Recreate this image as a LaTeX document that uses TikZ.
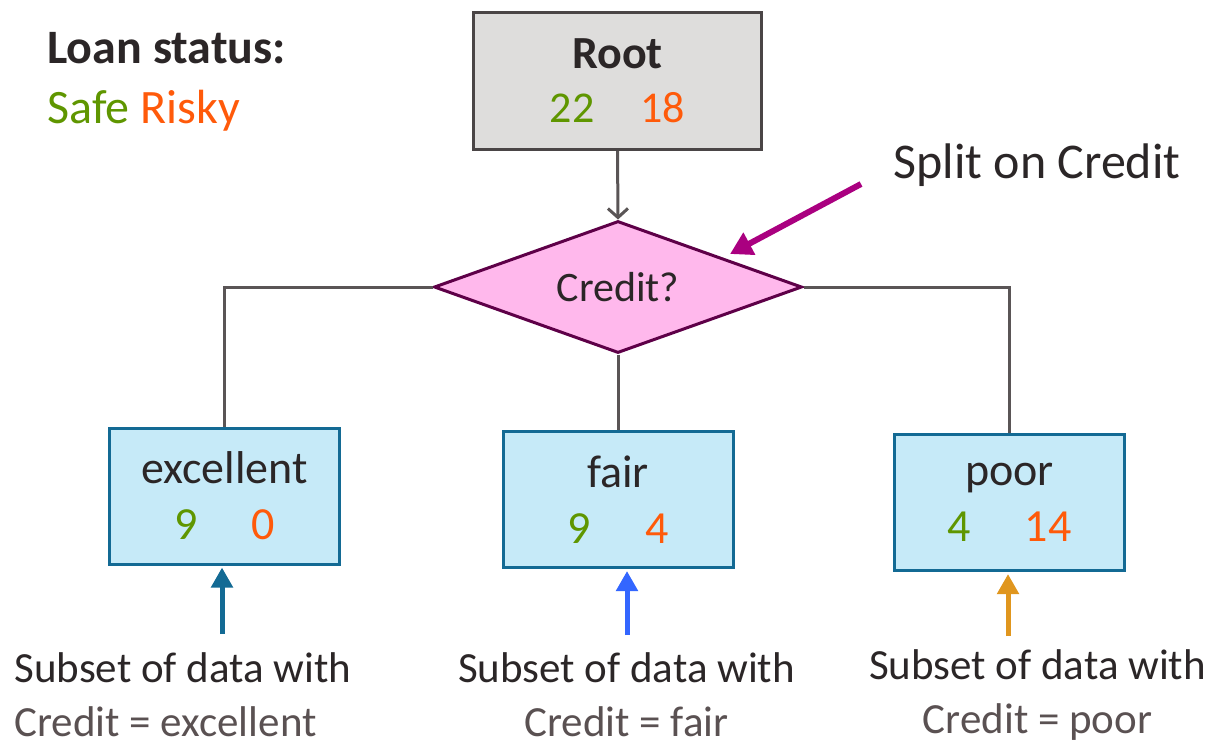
\documentclass[tikz,border=0pt]{standalone}
\usepackage{fontspec}
\setmainfont{Carlito}
\usetikzlibrary{shapes.geometric,arrows.meta}

\definecolor{safe}{HTML}{5F9600}
\definecolor{risky}{HTML}{FF5A0A}
\definecolor{textdark}{HTML}{2B2627}
\definecolor{textgray}{HTML}{5A5152}
\definecolor{rootfill}{HTML}{DEDDDC}
\definecolor{rootdraw}{HTML}{4A4546}
\definecolor{credfill}{HTML}{FFB8EC}
\definecolor{creddraw}{HTML}{5E0048}
\definecolor{leaffill}{HTML}{C6EAF8}
\definecolor{leafdraw}{HTML}{136A94}
\definecolor{connline}{HTML}{5A5556}
\definecolor{splitcol}{HTML}{AA0080}
\definecolor{exccol}{HTML}{136A94}
\definecolor{faircol}{HTML}{3366FF}
\definecolor{poorcol}{HTML}{E0961E}

\begin{document}
\begin{tikzpicture}[x=0.5pt,y=-0.5pt,
		rootbox/.style={draw=rootdraw,fill=rootfill,line width=1.5pt,minimum width=144pt,minimum height=68.5pt,align=center,text=textdark,font=\fontsize{23}{27}\selectfont},
		leaf/.style={draw=leafdraw,fill=leaffill,line width=1.5pt,minimum width=115pt,minimum height=68pt,align=center,text=textdark,font=\fontsize{23}{28}\selectfont},
		question/.style={diamond,aspect=2.78,draw=creddraw,fill=credfill,line width=1.5pt,inner sep=0pt,minimum width=184pt,minimum height=66pt,text=textdark,font=\fontsize{21}{25}\selectfont},
		conn/.style={draw=connline,line width=1.5pt},
		sublabel/.style={inner sep=0pt,text=textdark,font=\fontsize{21.5}{27}\selectfont},
		thick arrow/.style={line width=2.5pt,-{Triangle[width=10.5pt,length=10pt]}}]
			\useasboundingbox (0,0) rectangle (1213,746);
			% legend
			\node[anchor=west,inner sep=0pt,align=left,font=\fontsize{24}{30}\selectfont] (legend) at (47,82) {{\bfseries\color{textdark}Loan status:}\\{\color{safe}Safe} {\color{risky}Risky}};
			% tree
			\node[rootbox] (root) at (617.5,81) {{\bfseries Root}\\{\fontsize{22}{27}\selectfont\color{safe}22\hspace{23pt}\color{risky}18}};
			\node[question] (credit) at (618,287) {Credit?};
			\node[leaf] (exc) at (224.5,496) {excellent\\{\color{safe}9}\hspace{27pt}{\color{risky}0}};
			\node[leaf] (fair) at (618,499.5) {fair\\{\color{safe}9}\hspace{27pt}{\color{risky}4}};
			\node[leaf] (poor) at (1009.5,502.5) {poor\\{\color{safe}4}\hspace{27pt}{\color{risky}14}};
			\draw[conn,-{Straight Barb[length=4.5pt,width=10pt]}] (root.south) -- (credit.north);
			\draw[conn] (credit.west) -| (exc.north);
			\draw[conn] (credit.south) -- (fair.north);
			\draw[conn] (credit.east) -| (poor.north);
			% split annotation
			\node[inner sep=0pt,text=textdark,font=\fontsize{25}{30}\selectfont] (split) at (1037,165) {Split on Credit};
			\coordinate (splittail) at (861,184);
			\coordinate (splittip) at (730,254);
			\draw[splitcol,line width=3pt,-{Triangle[width=12pt,length=11pt]}] (splittail) -- (splittip);
			% subsets
			\node[sublabel,anchor=west,align=left] (exclab) at (14,695) {Subset of data with\\{\color{textgray}Credit = excellent}};
			\node[sublabel,align=center] (fairlab) at (626.5,695) {Subset of data with\\{\color{textgray}Credit = fair}};
			\node[sublabel,align=center] (poorlab) at (1037.5,695) {Subset of data with\\{\color{textgray}Credit = poor}};
			\coordinate (exctail) at (222,634);
			\coordinate (fairtail) at (627,635);
			\coordinate (poortail) at (1008,636);
			\draw[exccol,thick arrow,shorten >=1pt] (exctail) -- (exctail |- exc.south);
			\draw[faircol,thick arrow,shorten >=1pt] (fairtail) -- (fairtail |- fair.south);
			\draw[poorcol,thick arrow,shorten >=1pt] (poortail) -- (poortail |- poor.south);
		\end{tikzpicture}
\end{document}
